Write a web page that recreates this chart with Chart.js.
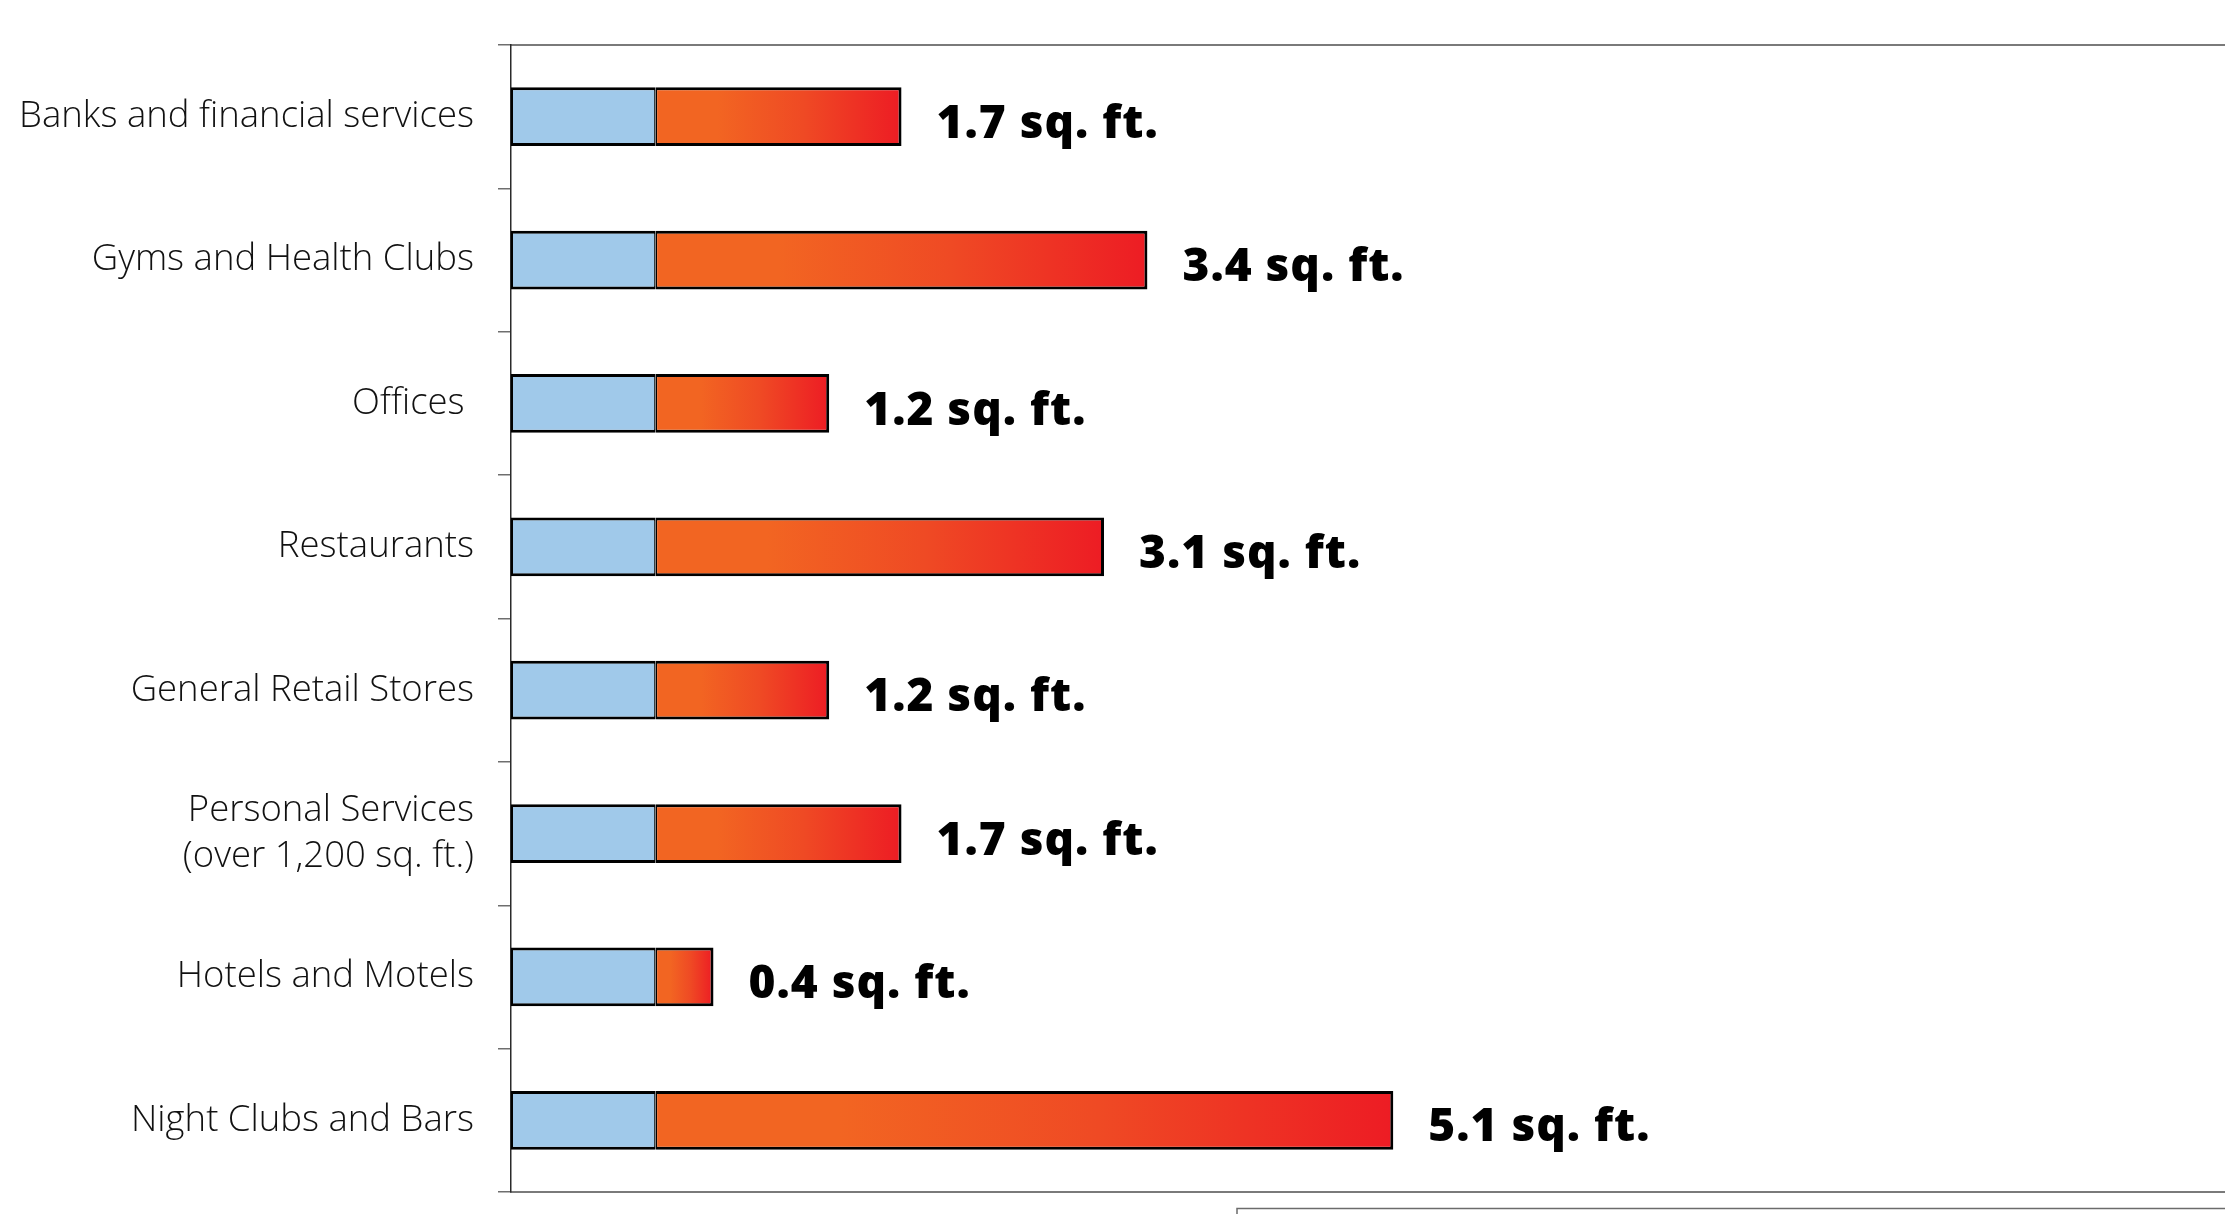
<!DOCTYPE html>
<html>
<head>
<meta charset="utf-8">
<script src="https://cdn.jsdelivr.net/npm/chart.js@4/dist/chart.umd.min.js"></script>
<style>
  html, body { margin: 0; padding: 0; background: #ffffff; }
  #wrap { width: 2225px; height: 1214px; position: relative; }
</style>
</head>
<body>
<div id="wrap"><canvas id="c" width="2225" height="1214"></canvas></div>
<script>
// Venue types (top to bottom)
const categories = [
  'Banks and financial services',
  'Gyms and Health Clubs',
  'Offices ',
  'Restaurants',
  'General Retail Stores',
  ['Personal Services', '(over 1,200 sq. ft.)'],
  'Hotels and Motels',
  'Night Clubs and Bars'
];
// Base segment (blue) and additional square footage (orange-red)
const baseArea = [1, 1, 1, 1, 1, 1, 1, 1];
const extraArea = [1.7, 3.4, 1.2, 3.1, 1.2, 1.7, 0.4, 5.1];
const valueSuffix = ' sq. ft.';
const xMax = 11.85;

const BLUE = '#a0c9ea';
const ORANGE = '#f26522';
const MID = '#ef4a24';
const RED = '#ed1c24';

function redGradient(context) {
  const chart = context.chart;
  const x = chart.scales && chart.scales.x;
  if (!chart.chartArea || !x || context.type !== 'data') return ORANGE;
  const i = context.dataIndex;
  const x0 = x.getPixelForValue(baseArea[i]);
  const x1 = x.getPixelForValue(baseArea[i] + extraArea[i]);
  if (!isFinite(x0) || !isFinite(x1) || x1 <= x0) return ORANGE;
  const g = chart.ctx.createLinearGradient(x0, 0, x1, 0);
  g.addColorStop(0, ORANGE);
  g.addColorStop(0.25, ORANGE);
  g.addColorStop(0.6, MID);
  g.addColorStop(1, RED);
  return g;
}

// Value labels to the right of each bar
const valueLabels = {
  id: 'valueLabels',
  afterDatasetsDraw(chart) {
    const meta = chart.getDatasetMeta(1);
    const c = chart.ctx;
    c.save();
    c.fillStyle = '#000000';
    c.font = '800 46px "Open Sans", Lato, sans-serif';
    if ('letterSpacing' in c) c.letterSpacing = '1px';
    c.textAlign = 'left';
    c.textBaseline = 'middle';
    meta.data.forEach((el, i) => {
      c.fillText(extraArea[i] + valueSuffix, el.x + 35, el.y + 8);
    });
    c.restore();
  }
};

// Thin frame corner below the plot
const footerFrame = {
  id: 'footerFrame',
  afterDraw(chart) {
    const c = chart.ctx;
    c.save();
    c.strokeStyle = '#6b6b6b';
    c.lineWidth = 1.5;
    c.beginPath();
    c.moveTo(1237, chart.height + 2);
    c.lineTo(1237, 1208.5);
    c.lineTo(chart.width + 2, 1208.5);
    c.stroke();
    c.restore();
  }
};

new Chart(document.getElementById('c'), {
  type: 'bar',
  data: {
    labels: categories,
    datasets: [
      {
        data: baseArea,
        backgroundColor: BLUE,
        borderColor: '#000000',
        borderWidth: { top: 3, bottom: 3, left: 2, right: 1.5 },
        borderSkipped: false
      },
      {
        data: extraArea,
        backgroundColor: redGradient,
        borderColor: '#000000',
        borderWidth: { top: 3, bottom: 3, left: 1.5, right: 3 },
        borderSkipped: false
      }
    ]
  },
  options: {
    indexAxis: 'y',
    responsive: false,
    animation: false,
    events: [],
    layout: { padding: { top: 37, bottom: 14, left: 0, right: 0 } },
    datasets: { bar: { barPercentage: 0.41, categoryPercentage: 1 } },
    plugins: { legend: { display: false }, tooltip: { enabled: false } },
    scales: {
      x: {
        stacked: true,
        min: 0,
        max: xMax,
        position: 'bottom',
        ticks: { display: false },
        grid: { display: false },
        border: { display: true, color: '#7a7a7a', width: 2 }
      },
      xTop: {
        position: 'top',
        min: 0,
        max: 1,
        ticks: { display: false },
        grid: { display: false },
        border: { display: true, color: '#7a7a7a', width: 2 }
      },
      y: {
        stacked: true,
        offset: true,
        afterFit(scale) {
          scale.width = 511;
          scale.paddingTop = 0;
          scale.paddingBottom = 0;
        },
        ticks: {
          padding: 24,
          color: '#111111',
          font: { family: '"Open Sans", Lato, sans-serif', size: 36.5, weight: 300, lineHeight: 1.25 }
        },
        grid: {
          display: true,
          offset: true,
          drawOnChartArea: false,
          drawTicks: true,
          tickLength: 13,
          color: '#6e6e6e',
          lineWidth: 1.5
        },
        border: { display: true, color: '#2a2a2a', width: 1.5 }
      }
    }
  },
  plugins: [valueLabels, footerFrame]
});
</script>
</body>
</html>
